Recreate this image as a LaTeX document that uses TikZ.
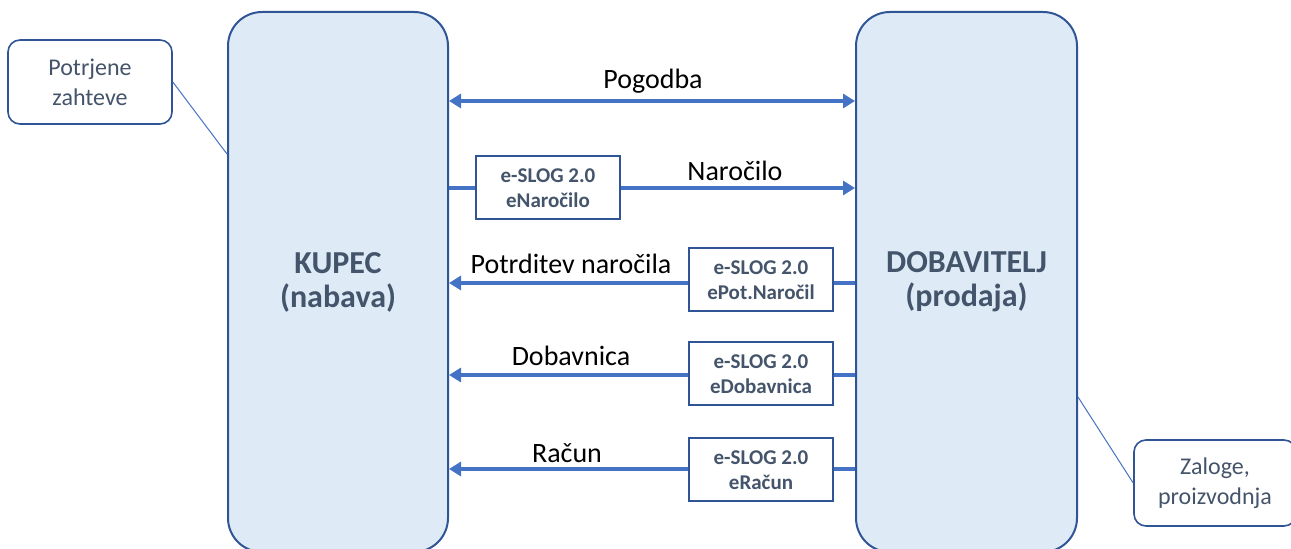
\documentclass[tikz,border=0pt]{standalone}
\usepackage{fontspec}
\setmainfont{Carlito}
\usetikzlibrary{arrows.meta,positioning}
\definecolor{polnilo}{HTML}{DEEBF7}
\definecolor{obroba}{HTML}{2F5597}
\definecolor{puscica}{HTML}{4472C4}
\definecolor{besedilo}{HTML}{44546A}

\begin{document}
\begin{tikzpicture}[x=0.5pt,y=-0.5pt,
  stranka/.style={draw=obroba,line width=1pt,fill=polnilo,rounded corners=17pt,
    minimum width=110pt,minimum height=270pt,align=center,text=besedilo,
    font=\fontsize{16}{17}\selectfont\bfseries},
  opomba/.style={draw=obroba,line width=0.8pt,fill=white,rounded corners=6pt,
    minimum width=82pt,minimum height=42pt,align=center,text=besedilo,
    font=\fontsize{12}{15}\selectfont},
  eslog/.style={draw=obroba,line width=1pt,fill=white,minimum width=72pt,
    minimum height=31.5pt,align=center,text=besedilo,inner sep=1pt,
    font=\fontsize{10.5}{12.5}\selectfont\bfseries},
  oznaka/.style={font=\fontsize{14}{16}\selectfont,text=black},
  tok/.style={draw=puscica,line width=2pt},
  pusc/.style={tok,-{Triangle[length=6pt,width=7pt]}}]
\useasboundingbox (0,0) rectangle (1291,549);
\clip (0,0) rectangle (1291,549);
\node[stranka] (kupec) at (338,282) {KUPEC\\(nabava)};
\node[stranka,minimum width=110.5pt] (dobavitelj) at (966.5,282) {DOBAVITELJ\\(prodaja)};
\node[opomba] (zahteve) at (90,82) {Potrjene\\zahteve};
\node[opomba,minimum width=81pt,minimum height=43pt] (zaloge) at (1215,483) {Zaloge,\\proizvodnja};
\draw[draw=puscica,line width=0.5pt] (zahteve.east) -- (kupec.west |- 0,154);
\draw[draw=puscica,line width=0.5pt] (zaloge.west) -- (dobavitelj.east |- 0,397);
% pogodba
\coordinate (p1) at (kupec.east |- 0,101);
\coordinate (p2) at (dobavitelj.west |- 0,101);
\draw[tok,{Triangle[length=6pt,width=7pt]}-{Triangle[length=6pt,width=7pt]}] (p1) -- (p2);
\node[oznaka] (pogodba) at (653,81) {Pogodba};
% narocilo
\node[eslog] (enar) at (548,188) {e-SLOG 2.0\\eNaročilo};
\draw[tok] (kupec.east |- enar) -- (enar);
\draw[pusc] (enar) -- (dobavitelj.west |- enar);
\node[oznaka] (narocilo) at (735,171) {Naročilo};
% potrditev
\node[eslog] (epot) at (761,280) {e-SLOG 2.0\\ePot.Naročil};
\draw[tok] (dobavitelj.west |- 0,283) -- (epot.east |- 0,283);
\draw[pusc] (epot.west |- 0,283) -- (kupec.east |- 0,283);
\node[oznaka] (potrditev) at (571,264) {Potrditev naročila};
% dobavnica
\node[eslog] (edob) at (761,374) {e-SLOG 2.0\\eDobavnica};
\draw[tok] (dobavitelj.west |- 0,375) -- (edob.east |- 0,375);
\draw[pusc] (edob.west |- 0,375) -- (kupec.east |- 0,375);
\node[oznaka] (dobavnica) at (571,356) {Dobavnica};
% racun
\node[eslog] (erac) at (761,470) {e-SLOG 2.0\\eRačun};
\draw[tok] (dobavitelj.west |- 0,469) -- (erac.east |- 0,469);
\draw[pusc] (erac.west |- 0,469) -- (kupec.east |- 0,469);
\node[oznaka] (racun) at (567,453) {Račun};
\end{tikzpicture}
\end{document}
